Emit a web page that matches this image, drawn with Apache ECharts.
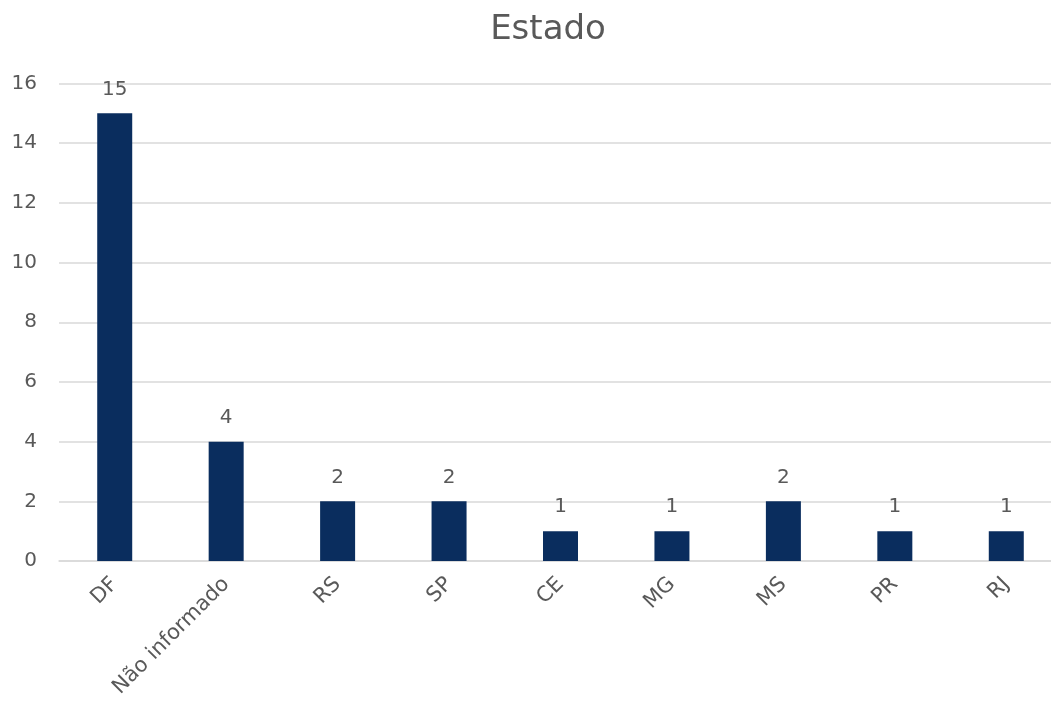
<!DOCTYPE html>
<html>
<head>
<meta charset="utf-8">
<script src="https://cdn.jsdelivr.net/npm/echarts@6/dist/echarts.min.js"></script>
<style>
  html, body { margin: 0; padding: 0; background: #ffffff; overflow: hidden; }
  #chart { width: 1062px; height: 715px; }
</style>
</head>
<body>
<div id="chart"></div>
<script>
// Participantes por estado
const categories = ['DF', 'Não informado', 'RS', 'SP', 'CE', 'MG', 'MS', 'PR', 'RJ'];
const counts = [15, 4, 2, 2, 1, 1, 2, 1, 1];
const yTicks = { min: 0, max: 16, interval: 2 };

const FONT = '"DejaVu Sans", sans-serif';
const TEXT = '#595959';

const chart = echarts.init(document.getElementById('chart'), null, { renderer: 'canvas' });
chart.setOption({
  animation: false,
  backgroundColor: '#ffffff',
  title: {
    text: 'Estado',
    left: 543,
    top: 8,
    textAlign: 'center',
    textStyle: { fontFamily: FONT, fontSize: 34, fontWeight: 'normal', color: TEXT }
  },
  grid: { left: 59, right: 0, top: 83.5, bottom: 715 - 561, containLabel: false },
  xAxis: {
    type: 'category',
    data: categories,
    axisLine: { lineStyle: { color: '#d9d9d9', width: 1.5 } },
    axisTick: { show: false },
    axisLabel: {
      rotate: 45, interval: 0, margin: 20,
      fontFamily: FONT, fontSize: 21, color: TEXT
    }
  },
  yAxis: {
    type: 'value',
    min: yTicks.min, max: yTicks.max, interval: yTicks.interval,
    axisLine: { show: false },
    axisTick: { show: false },
    splitLine: { lineStyle: { color: '#d9d9d9', width: 1.5 } },
    axisLabel: { margin: 22, fontFamily: FONT, fontSize: 20, color: TEXT }
  },
  series: [{
    type: 'bar',
    data: counts,
    barWidth: 35,
    itemStyle: { color: '#0a2d5e' },
    label: {
      show: true, position: 'top', distance: 14,
      fontFamily: FONT, fontSize: 20, color: TEXT
    }
  }]
});
</script>
</body>
</html>
